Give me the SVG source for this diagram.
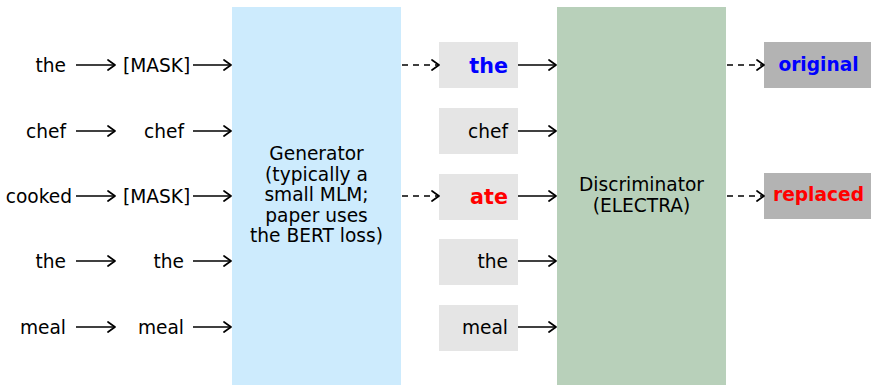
<svg xmlns="http://www.w3.org/2000/svg" width="871" height="385" viewBox="0 0 871 385">
  <defs>
    <marker id="head" viewBox="0 0 10 12" refX="9" refY="6" markerWidth="10" markerHeight="12" markerUnits="userSpaceOnUse" orient="auto">
      <path d="M2,1 L9,6 L2,11" fill="none" stroke="#000" stroke-width="1.7" stroke-linecap="round" stroke-linejoin="round"/>
    </marker>
    <style>
      text { font-family: "DejaVu Sans", "Liberation Sans", sans-serif; font-size: 18.6px; fill: #000; }
      .r { text-anchor: end; }
      .c { text-anchor: middle; }
      .tok { font-size: 20.7px; font-weight: bold; }
      .lab { font-size: 18.6px; font-weight: bold; }
      .solid { stroke: #000; stroke-width: 1.6; fill: none; marker-end: url(#head); }
      .dash { stroke: #000; stroke-width: 1.6; fill: none; stroke-dasharray: 6 5; marker-end: url(#head); }
    </style>
  </defs>

  <!-- input words and their masked / kept versions -->
  <g id="inputs">
    <text class="r" x="66" y="72">the</text>
    <text class="r" x="66" y="138">chef</text>
    <text class="r" x="72" y="203">cooked</text>
    <text class="r" x="66" y="268">the</text>
    <text class="r" x="66" y="334">meal</text>
  </g>
  <g id="masked">
    <text x="123" y="72">[MASK]</text>
    <text class="r" x="184" y="138">chef</text>
    <text x="123" y="203">[MASK]</text>
    <text class="r" x="184" y="268">the</text>
    <text class="r" x="184" y="334">meal</text>
  </g>

  <!-- generator block -->
  <g id="generator">
    <rect x="232" y="7" width="169" height="378" fill="#cdebfd"/>
    <text class="c" x="316.5" y="160">Generator</text>
    <text class="c" x="316.5" y="180.5">(typically a</text>
    <text class="c" x="316.5" y="201">small MLM;</text>
    <text class="c" x="316.5" y="221.5">paper uses</text>
    <text class="c" x="316.5" y="242">the BERT loss)</text>
  </g>

  <!-- corrupted token sequence -->
  <g id="tokens">
    <rect x="439" y="42" width="79" height="46" fill="#e5e5e5"/>
    <rect x="439" y="108" width="79" height="46" fill="#e5e5e5"/>
    <rect x="439" y="174" width="79" height="46" fill="#e5e5e5"/>
    <rect x="439" y="239" width="79" height="46" fill="#e5e5e5"/>
    <rect x="439" y="305" width="79" height="46" fill="#e5e5e5"/>
    <text class="r tok" x="508" y="73" style="fill:#0000ff">the</text>
    <text class="r" x="508" y="138">chef</text>
    <text class="r tok" x="508" y="204" style="fill:#ff0000">ate</text>
    <text class="r" x="508" y="268">the</text>
    <text class="r" x="508" y="334">meal</text>
  </g>

  <!-- discriminator block -->
  <g id="discriminator">
    <rect x="557" y="7" width="169" height="378" fill="#b8d0ba"/>
    <text class="c" x="641.5" y="191">Discriminator</text>
    <text class="c" x="641.5" y="212">(ELECTRA)</text>
  </g>

  <!-- per-token verdicts -->
  <g id="verdicts">
    <rect x="764" y="42" width="107" height="46" fill="#b3b3b3"/>
    <rect x="764" y="173" width="107" height="46" fill="#b3b3b3"/>
    <text class="c lab" x="818.5" y="71" style="fill:#0000ff">original</text>
    <text class="c lab" x="818.5" y="201" style="fill:#ff0000">replaced</text>
  </g>

  <g id="connectors">
    <!-- words to generator inputs -->
    <line class="solid" x1="76" y1="65" x2="115" y2="65"/>
    <line class="solid" x1="76" y1="131" x2="115" y2="131"/>
    <line class="solid" x1="76" y1="196" x2="115" y2="196"/>
    <line class="solid" x1="76" y1="261" x2="115" y2="261"/>
    <line class="solid" x1="76" y1="327" x2="115" y2="327"/>
    <line class="solid" x1="193" y1="65" x2="231" y2="65"/>
    <line class="solid" x1="193" y1="131" x2="231" y2="131"/>
    <line class="solid" x1="193" y1="196" x2="231" y2="196"/>
    <line class="solid" x1="193" y1="261" x2="231" y2="261"/>
    <line class="solid" x1="193" y1="327" x2="231" y2="327"/>
    <!-- generator samples -->
    <line class="dash" x1="402" y1="65" x2="439" y2="65"/>
    <line class="dash" x1="402" y1="196" x2="439" y2="196"/>
    <!-- tokens into discriminator -->
    <line class="solid" x1="518" y1="65" x2="556" y2="65"/>
    <line class="solid" x1="518" y1="131" x2="556" y2="131"/>
    <line class="solid" x1="518" y1="196" x2="556" y2="196"/>
    <line class="solid" x1="518" y1="261" x2="556" y2="261"/>
    <line class="solid" x1="518" y1="327" x2="556" y2="327"/>
    <!-- discriminator outputs -->
    <line class="dash" x1="727" y1="65" x2="764" y2="65"/>
    <line class="dash" x1="727" y1="196" x2="764" y2="196"/>
  </g>
</svg>
